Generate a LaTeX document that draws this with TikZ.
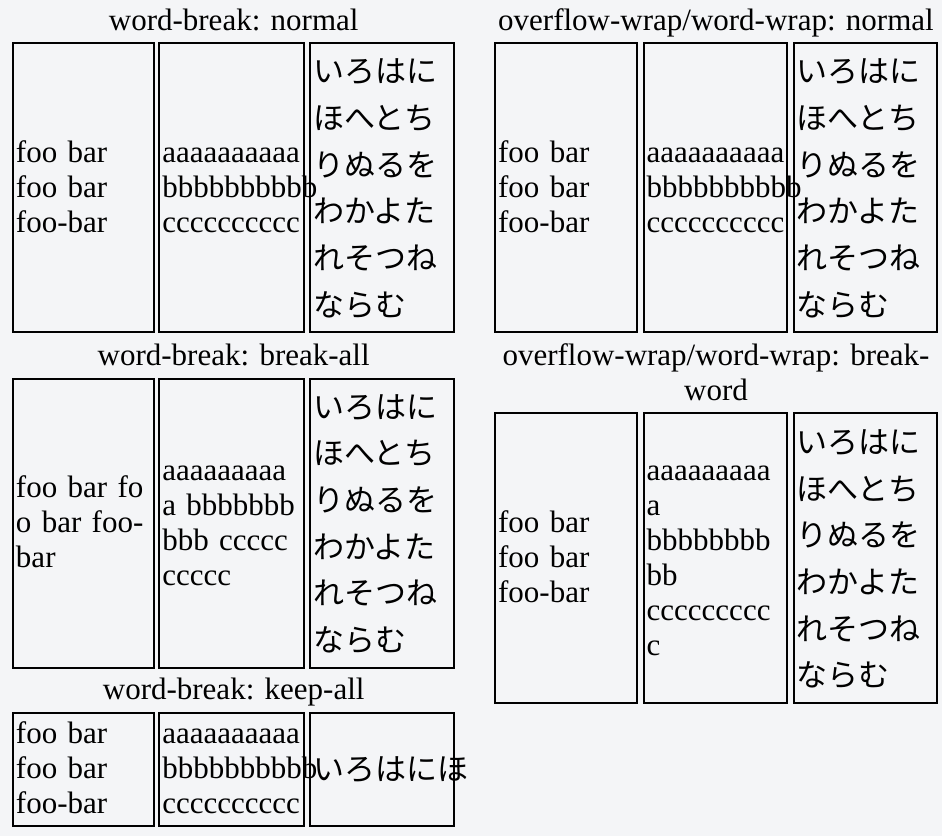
\documentclass[tikz,border=0pt]{standalone}
\usepackage{fontspec}
\setmainfont{Liberation Serif}
\newfontfamily\jpfont{Noto Sans CJK JP}
\usepackage{tikz}
\definecolor{pagebg}{RGB}{244,245,247}
\hyphenpenalty=10000
\newcommand{\lnstrut}{\rule[-8pt]{0pt}{35pt}}
\newcommand{\knstrut}{\rule[-11.4pt]{0pt}{46.67pt}}

\begin{document}
\begin{tikzpicture}[x=1pt, y=-1pt,
  heading/.style={font=\fontsize{31}{35}\selectfont, inner sep=0pt, align=center, anchor=north},
  cell/.style 2 args={draw, line width=2pt, inner xsep=3pt, inner ysep=0pt,
    minimum height=#1, text width=#2, align=left, font=\fontsize{31}{35}\selectfont},
  kana/.style={font=\jpfont\fontsize{31}{46.67}\selectfont}]
  % Page
  \useasboundingbox (0,0) rectangle (942,836);
  \fill[pagebg] (0,0) rectangle (942,836);

  % word-break: normal
  \node[heading] (tnormal) at (233.7,3) {\lnstrut word-break: normal};
  \node[cell={289pt}{135pt}] (na) at (83.5,187.5) {\lnstrut foo bar\\ \lnstrut foo bar\\ \lnstrut foo-bar};
  \node[cell={289pt}{138.7pt}] (nb) at (231.7,187.5) {\lnstrut aaaaaaaaaa\\ \lnstrut bbbbbbbbbb\\ \lnstrut cccccccccc};
  \node[cell={289pt}{138pt}, kana] (nc) at (382.3,187.5) {\knstrut いろはに\\ \knstrut ほへとち\\ \knstrut りぬるを\\ \knstrut わかよた\\ \knstrut れそつね\\ \knstrut ならむ};

  % word-break: break-all
  \node[heading] (tbreakall) at (233.7,338) {\lnstrut word-break: break-all};
  \node[cell={289pt}{135pt}] (ba) at (83.5,523) {\lnstrut foo bar fo\\ \lnstrut o bar foo-\\ \lnstrut bar};
  \node[cell={289pt}{138.7pt}] (bb) at (231.7,523) {\lnstrut aaaaaaaaa\\ \lnstrut a bbbbbbb\\ \lnstrut bbb ccccc\\ \lnstrut ccccc};
  \node[cell={289pt}{138pt}, kana] (bc) at (382.3,523) {\knstrut いろはに\\ \knstrut ほへとち\\ \knstrut りぬるを\\ \knstrut わかよた\\ \knstrut れそつね\\ \knstrut ならむ};

  % word-break: keep-all
  \node[heading] (tkeepall) at (233.7,672) {\lnstrut word-break: keep-all};
  \node[cell={113pt}{135pt}] (ka) at (83.5,769) {\lnstrut foo bar\\ \lnstrut foo bar\\ \lnstrut foo-bar};
  \node[cell={113pt}{138.7pt}] (kb) at (231.7,769) {\lnstrut aaaaaaaaaa\\ \lnstrut bbbbbbbbbb\\ \lnstrut cccccccccc};
  \node[cell={113pt}{138pt}, kana] (kc) at (382.3,769) {\knstrut いろはにほ};

  % overflow-wrap/word-wrap: normal
  \node[heading] (towrap) at (716,3) {\lnstrut overflow-wrap/word-wrap: normal};
  \node[cell={289pt}{135.7pt}] (oa) at (566,187.5) {\lnstrut foo bar\\ \lnstrut foo bar\\ \lnstrut foo-bar};
  \node[cell={289pt}{137.3pt}] (ob) at (715.3,187.5) {\lnstrut aaaaaaaaaa\\ \lnstrut bbbbbbbbbb\\ \lnstrut cccccccccc};
  \node[cell={289pt}{137pt}, kana] (oc) at (865.2,187.5) {\knstrut いろはに\\ \knstrut ほへとち\\ \knstrut りぬるを\\ \knstrut わかよた\\ \knstrut れそつね\\ \knstrut ならむ};

  % overflow-wrap/word-wrap: break-word
  \node[heading] (tbreakword) at (716,338) {\lnstrut overflow-wrap/word-wrap: break-\\ \lnstrut word};
  \node[cell={290pt}{135.7pt}] (wa) at (566,558.3) {\lnstrut foo bar\\ \lnstrut foo bar\\ \lnstrut foo-bar};
  \node[cell={290pt}{137.3pt}] (wb) at (715.3,558.3) {\lnstrut aaaaaaaaa\\ \lnstrut a\\ \lnstrut bbbbbbbb\\ \lnstrut bb\\ \lnstrut ccccccccc\\ \lnstrut c};
  \node[cell={290pt}{137pt}, kana] (wc) at (865.2,558.3) {\knstrut いろはに\\ \knstrut ほへとち\\ \knstrut りぬるを\\ \knstrut わかよた\\ \knstrut れそつね\\ \knstrut ならむ};
\end{tikzpicture}
\end{document}
